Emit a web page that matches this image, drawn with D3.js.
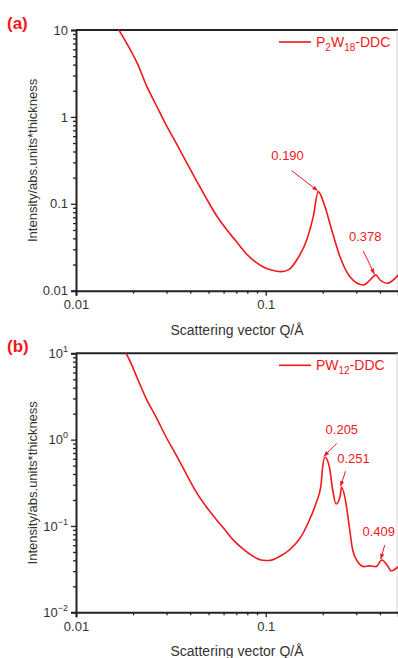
<!DOCTYPE html>
<html>
<head>
<meta charset="utf-8">
<script src="https://cdn.jsdelivr.net/npm/d3@7"></script>
<style>
  body { margin: 0; background: #fff; }
  svg { display: block; font-family: "Liberation Sans", Arial, sans-serif; }
</style>
</head>
<body>
<svg id="chart" width="398" height="658"></svg>
<script>
// panel (a): P2W18-DDC
const qA = [0.0166, 0.0191, 0.0212, 0.0234, 0.0264, 0.0298, 0.0337, 0.0380, 0.0429, 0.0485, 0.0547, 0.0618,
  0.0697, 0.0787, 0.0889, 0.1004, 0.1110, 0.1214, 0.1330, 0.1457, 0.1645, 0.1782, 0.1890, 0.2054, 0.2228, 0.2464,
  0.2780, 0.3270, 0.3548, 0.3800, 0.4005, 0.4375, 0.5000];
const iA = [10.5, 6.21, 3.99, 2.35, 1.38, 0.813, 0.501, 0.308, 0.189, 0.1167, 0.0749, 0.0515,
  0.0372, 0.0268, 0.0212, 0.0181, 0.0170, 0.01656, 0.0176, 0.02256, 0.0383, 0.0711, 0.138, 0.0926, 0.0500, 0.0246,
  0.0145, 0.01163, 0.01328, 0.0152, 0.01328, 0.01216, 0.0152];

// panel (b): PW12-DDC
const qB = [0.0180, 0.0195, 0.0216, 0.0234, 0.0264, 0.0298, 0.0337, 0.0380, 0.0429, 0.0485, 0.0547, 0.0593,
  0.0670, 0.0756, 0.0854, 0.0964, 0.1040, 0.1110, 0.1133, 0.1333, 0.1535, 0.1700, 0.1842, 0.1957, 0.1998, 0.2050,
  0.2164, 0.2256, 0.2348, 0.2465, 0.2510, 0.2650, 0.2758, 0.2874, 0.3055, 0.3310, 0.3500, 0.3815, 0.4090,
  0.4397, 0.4576, 0.5000];
const iB = [10.9, 7.66, 4.49, 3.01, 1.84, 1.08, 0.664, 0.407, 0.250, 0.168, 0.120, 0.097,
  0.0700, 0.0545, 0.0448, 0.0400, 0.0398, 0.0411, 0.0422, 0.0527, 0.0751, 0.1172, 0.183, 0.298, 0.486, 0.624,
  0.486, 0.261, 0.1796, 0.218, 0.2805, 0.183, 0.098, 0.0527, 0.0385, 0.0338, 0.0345, 0.0338, 0.0403,
  0.0344, 0.0301, 0.0338];

const peaksA = [{ q: 0.190, i: 0.138, label: '0.190' }, { q: 0.378, i: 0.0152, label: '0.378' }];
const peaksB = [{ q: 0.205, i: 0.624, label: '0.205' }, { q: 0.251, i: 0.2805, label: '0.251' }, { q: 0.409, i: 0.0403, label: '0.409' }];

const xTicks = [0.01, 0.1];
const yTicksA = [0.01, 0.1, 1, 10];
const yTicksB = [0.01, 0.1, 1, 10];

const red = '#f2171b';
const ink = '#222';
const svg = d3.select('#chart');

const x = d3.scaleLog().domain([0.01, 0.5]).range([76, 76 + 189.7 * Math.log10(50)]);

const defs = svg.append('defs');
defs.append('marker').attr('id', 'arrow').attr('viewBox', '0 0 10 10')
  .attr('refX', 9).attr('refY', 5).attr('markerWidth', 6).attr('markerHeight', 6)
  .attr('orient', 'auto')
  .append('path').attr('d', 'M0,1.5L10,5L0,8.5Z').attr('fill', red);

function minorTicks(lo, hi) {
  const out = [];
  for (let e = Math.floor(Math.log10(lo)); e < Math.ceil(Math.log10(hi)); e++) {
    for (let m = 2; m <= 9; m++) {
      const v = m * Math.pow(10, e);
      if (v >= lo && v <= hi) out.push(v);
    }
  }
  return out;
}

function drawPanel(o) {
  const y = d3.scaleLog().domain([0.01, 10]).range([o.bottom, o.top]);
  const g = svg.append('g');
  const clipId = 'clip' + o.tag;
  defs.append('clipPath').attr('id', clipId).append('rect')
    .attr('x', 76).attr('y', o.top).attr('width', 322).attr('height', o.bottom - o.top);

  // frame top + faint right edge
  g.append('line').attr('x1', 76).attr('x2', 398).attr('y1', o.top).attr('y2', o.top)
    .attr('stroke', ink).attr('stroke-width', 2);
  g.append('line').attr('x1', 397).attr('x2', 397).attr('y1', o.top).attr('y2', o.bottom)
    .attr('stroke', '#d6d6d6').attr('stroke-width', 1);

  // x axis
  g.append('g').attr('transform', `translate(0,${o.bottom})`)
    .call(d3.axisBottom(x).tickValues(xTicks).tickSize(5).tickPadding(4).tickFormat(d3.format('')));
  g.append('g').attr('transform', `translate(0,${o.bottom})`)
    .call(d3.axisBottom(x).tickValues(minorTicks(0.01, 0.5)).tickSize(3).tickFormat(''))
    .select('.domain').remove();

  // y axis
  const ya = g.append('g').attr('transform', 'translate(76,0)')
    .call(d3.axisLeft(y).tickValues(o.yTicks).tickSize(5).tickPadding(3).tickFormat(d3.format('')));
  g.append('g').attr('transform', 'translate(76,0)')
    .call(d3.axisLeft(y).tickValues(minorTicks(0.01, 10)).tickSize(3).tickFormat(''))
    .select('.domain').remove();

  g.selectAll('.domain').attr('stroke', ink).attr('stroke-width', 2);
  g.selectAll('.tick line').attr('stroke', ink).attr('stroke-width', 1.3);
  g.selectAll('.tick text').attr('fill', '#333').attr('font-size', 13)
    .attr('font-family', '"Liberation Sans", Arial, sans-serif');

  if (o.powers) {
    ya.selectAll('.tick text').each(function (d) {
      const t = d3.select(this);
      t.text('10');
      t.append('tspan').attr('dy', -6).attr('font-size', 9).text(String(Math.round(Math.log10(d))).replace('-', '\u2212'));
    });
  }

  // curve
  const pts = o.q.map((q, i) => [q, o.i[i]]);
  g.append('path').datum(pts).attr('clip-path', `url(#${clipId})`)
    .attr('fill', 'none').attr('stroke', red).attr('stroke-width', 1.6)
    .attr('d', d3.line().x(d => x(d[0])).y(d => y(d[1])).curve(d3.curveMonotoneX));

  // peak annotations
  o.peaks.forEach((p, k) => {
    const off = o.offsets[k];
    const tx = x(p.q), ty = y(p.i);
    g.append('line')
      .attr('x1', tx + off.ax).attr('y1', ty + off.ay).attr('x2', tx - 1).attr('y2', ty - 1)
      .attr('stroke', red).attr('stroke-width', 1).attr('marker-end', 'url(#arrow)');
    g.append('text').attr('x', tx + off.tx).attr('y', ty + off.ty)
      .attr('text-anchor', 'middle').attr('fill', red).attr('font-size', 13).text(p.label);
  });

  // legend
  g.append('line').attr('x1', 279).attr('x2', 311).attr('y1', o.top + 12).attr('y2', o.top + 12)
    .attr('stroke', red).attr('stroke-width', 1.6);
  const lt = g.append('text').attr('x', 316).attr('y', o.top + 17).attr('fill', red).attr('font-size', 14);
  o.legend.forEach(s => {
    const sp = lt.append('tspan').text(s.t);
    if (s.sub) sp.attr('font-size', 10).attr('dy', 4);
    else if (s.back) sp.attr('dy', -4);
  });

  // panel letter
  svg.append('text').attr('x', 7).attr('y', o.top - 1).attr('fill', red)
    .attr('font-size', 17).attr('font-weight', 'bold').text(o.tag === 'a' ? '(a)' : '(b)');

  // axis titles
  svg.append('text').attr('transform', `translate(37,${(o.top + o.bottom) / 2}) rotate(-90)`)
    .attr('text-anchor', 'middle').attr('fill', '#333').attr('font-size', 13)
    .text('Intensity/abs.units*thickness');
  svg.append('text').attr('x', 237).attr('y', o.bottom + 44)
    .attr('text-anchor', 'middle').attr('fill', '#333').attr('font-size', 14)
    .text('Scattering vector Q/\u00c5');
}

drawPanel({
  tag: 'a', top: 30, bottom: 290.7, q: qA, i: iA, yTicks: yTicksA, powers: false, peaks: peaksA,
  offsets: [{ ax: -27, ay: -21, tx: -31, ty: -32 }, { ax: -12, ay: -24, tx: -10, ty: -34 }],
  legend: [{ t: 'P' }, { t: '2', sub: true }, { t: 'W', back: true }, { t: '18', sub: true }, { t: '-DDC', back: true }]
});
drawPanel({
  tag: 'b', top: 353.3, bottom: 612.3, q: qB, i: iB, yTicks: yTicksB, powers: true, peaks: peaksB,
  offsets: [{ ax: 12, ay: -14, tx: 17, ty: -23 }, { ax: 4, ay: -16, tx: 12, ty: -24 }, { ax: 3, ay: -15, tx: -3, ty: -24 }],
  legend: [{ t: 'PW' }, { t: '12', sub: true }, { t: '-DDC', back: true }]
});
</script>
</body>
</html>
